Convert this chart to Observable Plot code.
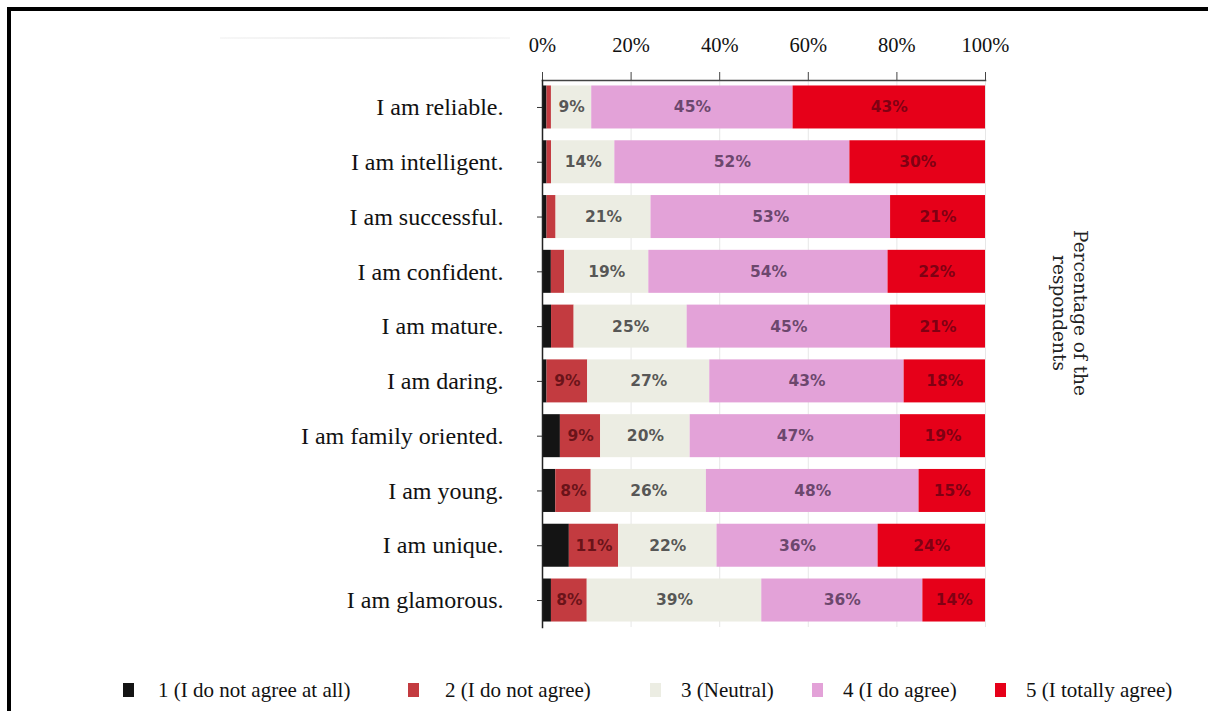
<!DOCTYPE html>
<html>
<head>
<meta charset="utf-8">
<script src="https://cdn.jsdelivr.net/npm/d3@7"></script>
<script src="https://cdn.jsdelivr.net/npm/@observablehq/plot@0.6"></script>
<style>
  html, body { margin: 0; padding: 0; background: #fff; width: 1208px; height: 711px; overflow: hidden; }
  #border { position: absolute; left: 7px; top: 7px; width: 1220px; height: 720px;
            border-top: 4px solid #000; border-left: 4px solid #000; }
  #rule { position: absolute; left: 220px; top: 37px; width: 290px; height: 2px;
          background: linear-gradient(90deg, #f7f7f7, #ececec 60%, #f7f7f7); }
  #chart { position: absolute; left: 0; top: 0; }
  #legend { position: absolute; left: 0; top: 678px; width: 1208px; height: 26px;
            font-family: "Liberation Serif", serif; font-size: 21px; color: #111; }
  .sw { position: absolute; top: 5px; width: 11px; height: 14px; }
  .lab { position: absolute; top: 0; white-space: nowrap; line-height: 24px; }
</style>
</head>
<body>
<div id="border"></div>
<div id="rule"></div>
<div id="chart"></div>
<div id="legend"></div>
<script>
// Self-image statements (rows, top to bottom)
const statements = [
  "I am reliable.", "I am intelligent.", "I am successful.", "I am confident.",
  "I am mature.", "I am daring.", "I am family oriented.", "I am young.",
  "I am unique.", "I am glamorous."
];

// Agreement levels (stack order, left to right)
const levels = [
  "1 (I do not agree at all)", "2 (I do not agree)", "3 (Neutral)",
  "4 (I do agree)", "5 (I totally agree)"
];

// Share of respondents (%) per level, one value per statement
const notAgreeAtAll = [1, 1, 1, 2, 2, 1, 4, 3, 6, 2];
const notAgree      = [1, 1, 2, 3, 5, 9, 9, 8, 11, 8];
const neutral       = [9, 14, 21, 19, 25, 27, 20, 26, 22, 39];
const doAgree       = [45, 52, 53, 54, 45, 43, 47, 48, 36, 36];
const totallyAgree  = [43, 30, 21, 22, 21, 18, 19, 15, 24, 14];

// Axis ticks (fraction of respondents)
const xTicks = [0, 0.2, 0.4, 0.6, 0.8, 1];

const levelColors = ["#141414", "#c33b40", "#ecede3", "#e3a2d8", "#e60019"];
const labelColors = ["#ffffff", "#5a0c12", "#3c3c3c", "#56375a", "#6e0012"];

// Horizontal placement of the legend swatches and their texts
const legendSwatchLeft = [123, 408, 650, 812, 995];
const legendTextLeft = [158, 445, 681, 843, 1026];

const series = [notAgreeAtAll, notAgree, neutral, doAgree, totallyAgree];
const data = statements.flatMap((statement, i) =>
  levels.map((level, j) => ({statement, level, value: series[j][i]}))
);

const stackOpts = {x: "value", y: "statement", order: levels, offset: "normalize"};

const labelMarks = levels.map((lv, j) =>
  Plot.text(data, Plot.stackX({
    ...stackOpts,
    z: "level",
    text: d => (d.level === lv && d.value >= 8 ? d.value + "%" : ""),
    fill: labelColors[j],
    fontFamily: "DejaVu Sans",
    fontWeight: "bold",
    fontSize: 15.5,
    fillOpacity: 0.85
  }))
);

const chart = Plot.plot({
  width: 1208,
  height: 640,
  marginLeft: 542,
  marginRight: 223,
  marginTop: 80,
  marginBottom: 13,
  style: {fontFamily: "Liberation Serif", background: "transparent", color: "#111"},
  x: {domain: [0, 1]},
  y: {domain: statements, paddingInner: 0.215, paddingOuter: 0.1, round: false},
  color: {domain: levels, range: levelColors},
  marks: [
    Plot.gridX(xTicks.slice(1), {stroke: "#cfcfcf", strokeOpacity: 0.5}),
    Plot.barX(data, Plot.stackX({...stackOpts, fill: "level"})),
    ...labelMarks,
    Plot.axisX({
      anchor: "top", ticks: xTicks, tickFormat: d3.format(".0%"),
      tickSize: 9, tickPadding: 20, fontSize: 20.5, label: null, stroke: "#444"
    }),
    Plot.axisY({tickSize: 5, tickPadding: 34, fontSize: 24, label: null, stroke: "#333"}),
    Plot.frame({anchor: "top", stroke: "#444", strokeWidth: 1.5}),
    Plot.frame({anchor: "left", stroke: "#222", strokeWidth: 1.5}),
    Plot.text(["Percentage of the\nrespondents"], {
      frameAnchor: "right", textAnchor: "middle", dx: 85, dy: -41, rotate: 90,
      fontFamily: "DejaVu Serif", fontSize: 18.5, fill: "#222", lineHeight: 1.15
    })
  ]
});
document.getElementById("chart").appendChild(chart);

// Legend below the chart
const legend = d3.select("#legend");
levels.forEach((lv, j) => {
  legend.append("div").attr("class", "sw")
    .style("left", legendSwatchLeft[j] + "px")
    .style("background", levelColors[j]);
  legend.append("span").attr("class", "lab")
    .style("left", legendTextLeft[j] + "px")
    .text(lv);
});
</script>
</body>
</html>
